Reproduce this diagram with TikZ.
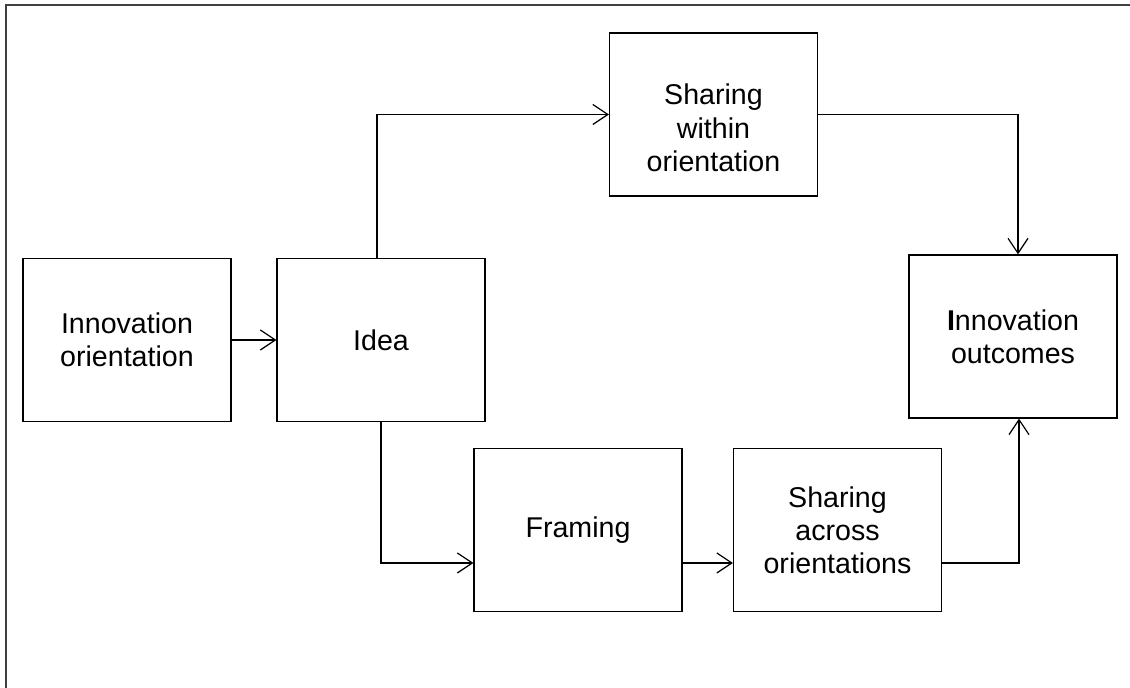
\documentclass[tikz,border=0pt]{standalone}
\usepackage{fontspec}
\setmainfont{Liberation Sans}
\usetikzlibrary{arrows.meta}

\begin{document}
\begin{tikzpicture}[x=0.5pt, y=0.5pt,
  caja/.style={draw, line width=0.6pt, minimum width=104pt, minimum height=81.5pt,
    inner sep=0pt, align=center, font=\fontsize{14.3}{16.6}\selectfont},
  flecha/.style={-{Straight Barb[length=7.5pt, width=10pt, line width=0.6pt]}, line width=0.6pt}]

% Marco
\useasboundingbox (0,0) rectangle (1130,688);
\draw[line width=0.8pt, black!75] (6,0) -- (6,683) -- (1130,683);

% Cajas
\node[caja] (orient) at (127,348) {Innovation\\orientation};
\node[caja] (idea) at (381,348) {Idea};
\node[caja] (within) at (713.5,573.5) {\rule{0pt}{23.8pt}Sharing\\within\\orientation};
\node[caja] (outcomes) at (1013,351.5) {\textbf{I}nnovation\\outcomes};
\node[caja] (framing) at (578,158) {Framing};
\node[caja] (across) at (837.5,158) {Sharing\\across\\orientations};

% Flechas
\draw[flecha] ([xshift=-2pt]idea.north) |- (within.west);
\draw[flecha] (orient) -- (idea);
\draw[flecha] (within.east) -| ([xshift=2.5pt]outcomes.north);
\draw[flecha] (idea.south) |- ([yshift=-16.5pt]framing.west);
\draw[flecha] ([yshift=-16.5pt]framing.east) -- ([yshift=-16.5pt]across.west);
\draw[flecha] ([yshift=-16.5pt]across.east) -| ([xshift=3pt]outcomes.south);

\end{tikzpicture}
\end{document}
